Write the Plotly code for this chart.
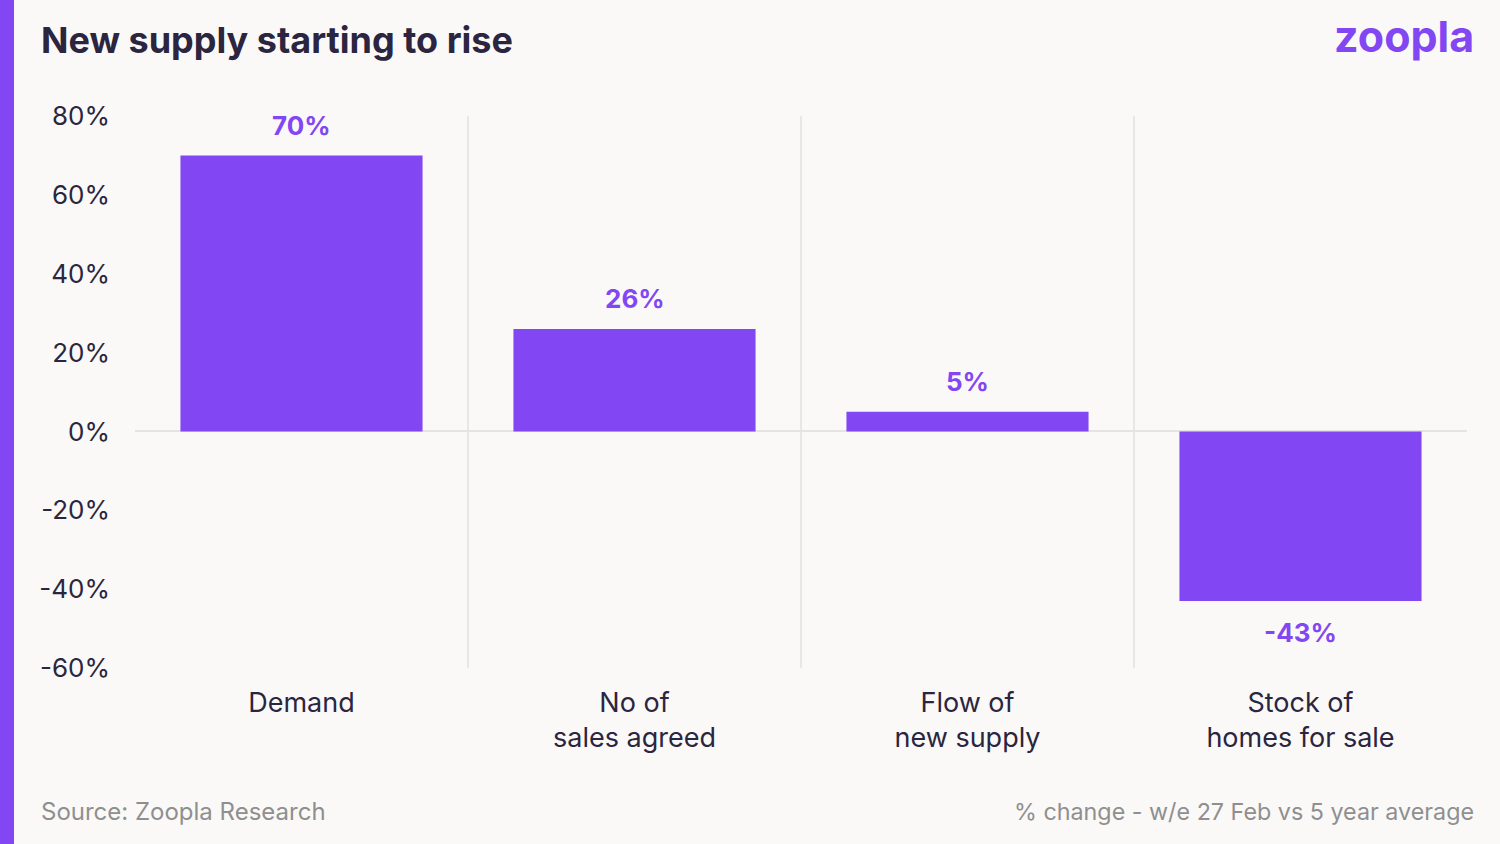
import plotly.graph_objects as go

categories = ["Demand", "No of<br>sales agreed", "Flow of<br>new supply", "Stock of<br>homes for sale"]
values = [70, 26, 5, -43]
value_labels = ["70%", "26%", "5%", "-43%"]
y_ticks = [80, 60, 40, 20, 0, -20, -40, -60]
y_tick_labels = ["80%", "60%", "40%", "20%", "0%", "-20%", "-40%", "-60%"]

PURPLE = "#8247F2"
DARK = "#2B2540"
GREY = "#8F8F8F"
BG = "#FAF9F7"
FONT = "Inter"

W, H = 1500, 844
ML, MR, MT, MB = 135, 33, 116, 176
PW, PH = W - ML - MR, H - MT - MB

fig = go.Figure()
fig.add_trace(go.Bar(
    x=categories, y=values, marker=dict(color=PURPLE, line=dict(width=0)),
    hoverinfo="skip",
))

for c, v, t in zip(categories, values, value_labels):
    fig.add_annotation(x=c, y=v, text=f"<b>{t}</b>", showarrow=False,
                       yshift=30 if v >= 0 else -32,
                       font=dict(family=FONT, size=26, color=PURPLE))

fig.update_layout(
    width=W, height=H,
    margin=dict(l=ML, r=MR, t=MT, b=MB, pad=0),
    paper_bgcolor=BG, plot_bgcolor=BG,
    bargap=0.273, showlegend=False,
    font=dict(family=FONT, color=DARK),
    xaxis=dict(
        type="category", tickson="boundaries", showgrid=True,
        gridcolor="#E9E7E5", gridwidth=1.5, ticks="", showline=False,
        tickfont=dict(family=FONT, size=27, color=DARK),
        ticklabelstandoff=16, zeroline=False,
    ),
    yaxis=dict(
        range=[-60, 80], tickvals=y_ticks, ticktext=y_tick_labels,
        showgrid=False, zeroline=True, zerolinecolor="#E6E4E2", zerolinewidth=2,
        tickfont=dict(family=FONT, size=26, color=DARK),
        ticklabelstandoff=24, showline=False, ticks="",
    ),
)

# left accent bar
fig.add_shape(type="rect", xref="paper", yref="paper",
              x0=-ML / PW, x1=(14 - ML) / PW, y0=-MB / PH, y1=1 + MT / PH,
              fillcolor=PURPLE, line=dict(width=0), layer="above")

def px_x(x):
    return (x - ML) / PW

def px_y(y):
    return 1 - (y - MT) / PH

fig.add_annotation(xref="paper", yref="paper", x=px_x(39), y=px_y(40),
                   xanchor="left", yanchor="middle", showarrow=False,
                   text="<b>New supply starting to rise</b>",
                   font=dict(family=FONT, size=36, color=DARK))
fig.add_annotation(xref="paper", yref="paper", x=px_x(1476), y=px_y(36),
                   xanchor="right", yanchor="middle", showarrow=False,
                   text="<b>zoopla</b>",
                   font=dict(family=FONT, size=43, color=PURPLE))
fig.add_annotation(xref="paper", yref="paper", x=px_x(39), y=px_y(811),
                   xanchor="left", yanchor="middle", showarrow=False,
                   text="Source: Zoopla Research",
                   font=dict(family=FONT, size=24, color=GREY))
fig.add_annotation(xref="paper", yref="paper", x=px_x(1476), y=px_y(811),
                   xanchor="right", yanchor="middle", showarrow=False,
                   text="% change - w/e 27 Feb vs 5 year average",
                   font=dict(family=FONT, size=23.3, color=GREY))

fig.write_html("out.html")
